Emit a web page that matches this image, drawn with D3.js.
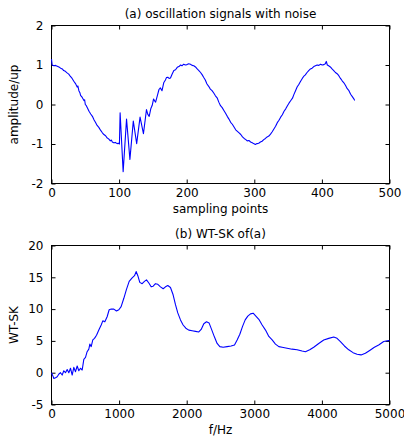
<!DOCTYPE html>
<html><head><meta charset="utf-8">
<script src="https://cdn.jsdelivr.net/npm/d3@7"></script>
<style>
body{margin:0;background:#fff;}
svg text{font-family:"DejaVu Sans",sans-serif;}
</style></head>
<body><svg id="c" width="404" height="441"></svg>
<script>
// ---- data: (a) oscillation signal ----
const sampleIdx = [0,1,3.5,6,8.5,11,13.5,16,18,20.5,23,25.5,28,30.5,33,35.5,38,39,40.5,42,43,45.5,48,49,50,51.5,53,55.5,58,60.5,63,65,67.5,70,72.5,75,77.5,80,82,84.5,87,88.5,90,92,94.5,97,99,100.5,101.5,106,111,116,121,126,131,136,140.5,142.5,144.5,147,149,151,153,154,157,159,161,163.5,166,168.5,170,172,174,176,178.5,181,183.5,186,188.5,191,193,195.5,198,200.5,203,205.5,208,210.5,213,215.5,218,220.5,223,225,227.5,230,232.5,235,237.5,240,242.5,245,247.5,250,252.5,255,257.5,260,262.5,265,267.5,270,272.5,275,277.5,280,282.5,285,287.5,289.5,292,294.5,297,299,301.5,304,306.5,309,311.5,314,316.5,319,321.5,324,326.5,329,331.5,334,336.5,339,341.5,344,346.5,349,351.5,354,356.5,358.5,361,363.5,366,368.5,371,373,375.5,378,380.5,383,385.5,388,390.5,393,395.5,398,400.5,403,405,406.5,408,410,412.5,415,417.5,420,422.5,425,427.5,430,432.5,435,437.5,440,442.5,445,447,448.5];
const amplitude = [1.15,1.00,0.98,0.99,0.97,0.95,0.92,0.90,0.86,0.84,0.80,0.77,0.71,0.66,0.59,0.53,0.44,0.47,0.35,0.30,0.23,0.18,0.10,0.12,0.00,-0.03,-0.08,-0.17,-0.24,-0.30,-0.39,-0.45,-0.53,-0.58,-0.65,-0.71,-0.76,-0.79,-0.84,-0.87,-0.92,-0.90,-0.95,-0.97,-0.96,-0.99,-0.98,-1.00,-0.21,-1.70,-0.37,-1.39,-0.42,-0.99,-0.32,-0.74,-0.13,-0.25,-0.30,-0.10,-0.02,0.14,0.08,0.06,0.25,0.38,0.42,0.35,0.55,0.62,0.68,0.69,0.66,0.67,0.77,0.86,0.88,0.94,0.96,1.00,0.98,1.02,1.00,1.01,1.03,1.02,0.99,0.98,0.95,0.90,0.86,0.81,0.75,0.69,0.62,0.52,0.46,0.39,0.35,0.29,0.22,0.17,0.06,-0.03,-0.08,-0.15,-0.22,-0.30,-0.37,-0.45,-0.50,-0.57,-0.64,-0.68,-0.72,-0.76,-0.82,-0.86,-0.89,-0.92,-0.91,-0.95,-0.97,-0.99,-1.01,-0.99,-0.98,-0.95,-0.93,-0.89,-0.86,-0.82,-0.80,-0.75,-0.69,-0.62,-0.55,-0.46,-0.40,-0.32,-0.26,-0.17,-0.11,-0.03,0.04,0.10,0.16,0.25,0.35,0.45,0.51,0.59,0.66,0.71,0.75,0.81,0.86,0.90,0.92,0.96,0.98,1.00,0.99,1.02,1.00,1.01,1.03,1.09,1.00,0.98,0.95,0.90,0.86,0.81,0.78,0.73,0.66,0.60,0.55,0.48,0.40,0.35,0.26,0.20,0.15,0.10];

// ---- data: (b) WT-SK ----
const freqHz = [0,20,35,60,84,110,133,158,182,207,232,256,281,306,330,355,380,404,429,454,478,503,527,552,567,587,611,636,666,700,735,759,789,823,853,883,922,961,996,1030,1070,1109,1149,1193,1228,1252,1277,1306,1341,1375,1405,1440,1474,1504,1538,1573,1612,1652,1686,1720,1760,1799,1834,1868,1908,1947,1987,2031,2080,2130,2179,2214,2253,2293,2332,2372,2411,2450,2490,2539,2598,2657,2707,2746,2786,2825,2865,2904,2944,2983,3023,3067,3116,3166,3215,3264,3313,3363,3411,3485,3559,3633,3707,3756,3820,3879,3953,4027,4101,4175,4224,4274,4333,4397,4461,4520,4579,4643,4707,4776,4840,4914,4988,5000];
const wtsk = [0.0,-0.5,-0.9,-0.8,-0.63,-0.2,0.0,-0.37,0.3,0.0,0.5,0.0,0.7,-0.37,0.84,0.16,1.05,0.3,0.7,0.42,2.1,2.4,3.3,3.7,4.5,4.1,5.15,5.4,5.9,6.7,7.5,8.15,8.0,8.8,9.9,10.0,10.0,9.7,9.9,10.4,11.7,13.1,14.35,14.9,15.25,15.9,15.25,14.2,14.0,14.35,14.6,14.1,13.5,13.6,14.0,13.9,13.5,13.2,13.5,13.7,13.4,12.25,10.7,9.4,8.3,7.5,7.0,6.7,6.6,6.5,6.4,6.8,7.7,8.0,7.8,6.7,5.6,4.6,4.1,4.0,4.1,4.2,4.35,5.15,6.05,7.25,8.3,8.9,9.25,9.35,8.9,8.4,7.5,6.7,5.7,5.15,4.5,4.1,4.0,3.85,3.7,3.6,3.4,3.3,3.6,4.0,4.6,5.15,5.4,5.6,5.4,4.9,4.2,3.6,3.15,2.9,2.8,3.05,3.5,4.0,4.35,4.9,5.05,5.0];

// ---- ticks & labels ----
const ticksA_x = [0,100,200,300,400,500];
const ticksA_y = [-2,-1,0,1,2];
const ticksB_x = [0,1000,2000,3000,4000,5000];
const ticksB_y = [-5,0,5,10,15,20];
const titleA = "(a) oscillation signals with noise";
const titleB = "(b) WT-SK of(a)";
const xLabelA = "sampling points", yLabelA = "amplitude/up";
const xLabelB = "f/Hz", yLabelB = "WT-SK";

const svg = d3.select("#c");
const FS = 12;
const FF = "DejaVu Sans, sans-serif";
const fmt = d => String(d);

function panel(o){
  const g = svg.append("g").attr("transform",`translate(${o.left},${o.top})`);
  const x = d3.scaleLinear().domain(o.xDomain).range([0,o.w]);
  const y = d3.scaleLinear().domain(o.yDomain).range([o.h,0]);
  const tk = 4;
  const styleAxis = sel => {
    sel.select(".domain").remove();
    sel.selectAll(".tick line").attr("stroke","#000");
    sel.selectAll("text").attr("font-size",FS).attr("fill","#000").attr("font-family",FF);
  };
  g.append("g").attr("transform",`translate(0,${o.h})`)
    .call(d3.axisBottom(x).tickValues(o.xt).tickSizeInner(-tk).tickSizeOuter(0).tickPadding(5).tickFormat(fmt))
    .call(styleAxis);
  g.append("g")
    .call(d3.axisTop(x).tickValues(o.xt).tickSizeInner(-tk).tickSizeOuter(0).tickFormat(""))
    .call(styleAxis);
  g.append("g")
    .call(d3.axisLeft(y).tickValues(o.yt).tickSizeInner(-tk).tickSizeOuter(0).tickPadding(8).tickFormat(fmt))
    .call(styleAxis);
  g.append("g").attr("transform",`translate(${o.w},0)`)
    .call(d3.axisRight(y).tickValues(o.yt).tickSizeInner(-tk).tickSizeOuter(0).tickFormat(""))
    .call(styleAxis);
  g.append("rect").attr("width",o.w).attr("height",o.h).attr("fill","none").attr("stroke","#000").attr("stroke-width",1);
  const line = d3.line().x((d,i)=>x(o.xs[i])).y(d=>y(d));
  g.append("path").datum(o.ys).attr("d",line).attr("fill","none").attr("stroke","#0000ff").attr("stroke-width",1.1).attr("stroke-linejoin","round");
  g.append("text").attr("x",o.w/2).attr("y",-8).attr("text-anchor","middle").attr("font-size",FS).attr("font-family",FF).text(o.title);
  g.append("text").attr("x",o.w/2).attr("y",o.h+29).attr("text-anchor","middle").attr("font-size",FS).attr("font-family",FF).text(o.xl);
  g.append("text").attr("transform",`translate(${-o.left+18},${o.h/2}) rotate(-90)`).attr("text-anchor","middle").attr("font-size",FS).attr("font-family",FF).text(o.yl);
}

panel({left:51.5,top:25.5,w:338,h:158,xDomain:[0,500],yDomain:[-2,2],xt:ticksA_x,yt:ticksA_y,
  xs:sampleIdx,ys:amplitude,title:titleA,xl:xLabelA,yl:yLabelA});
panel({left:51.5,top:245.5,w:338,h:159,xDomain:[0,5000],yDomain:[-5,20],xt:ticksB_x,yt:ticksB_y,
  xs:freqHz,ys:wtsk,title:titleB,xl:xLabelB,yl:yLabelB});
</script></body></html>
